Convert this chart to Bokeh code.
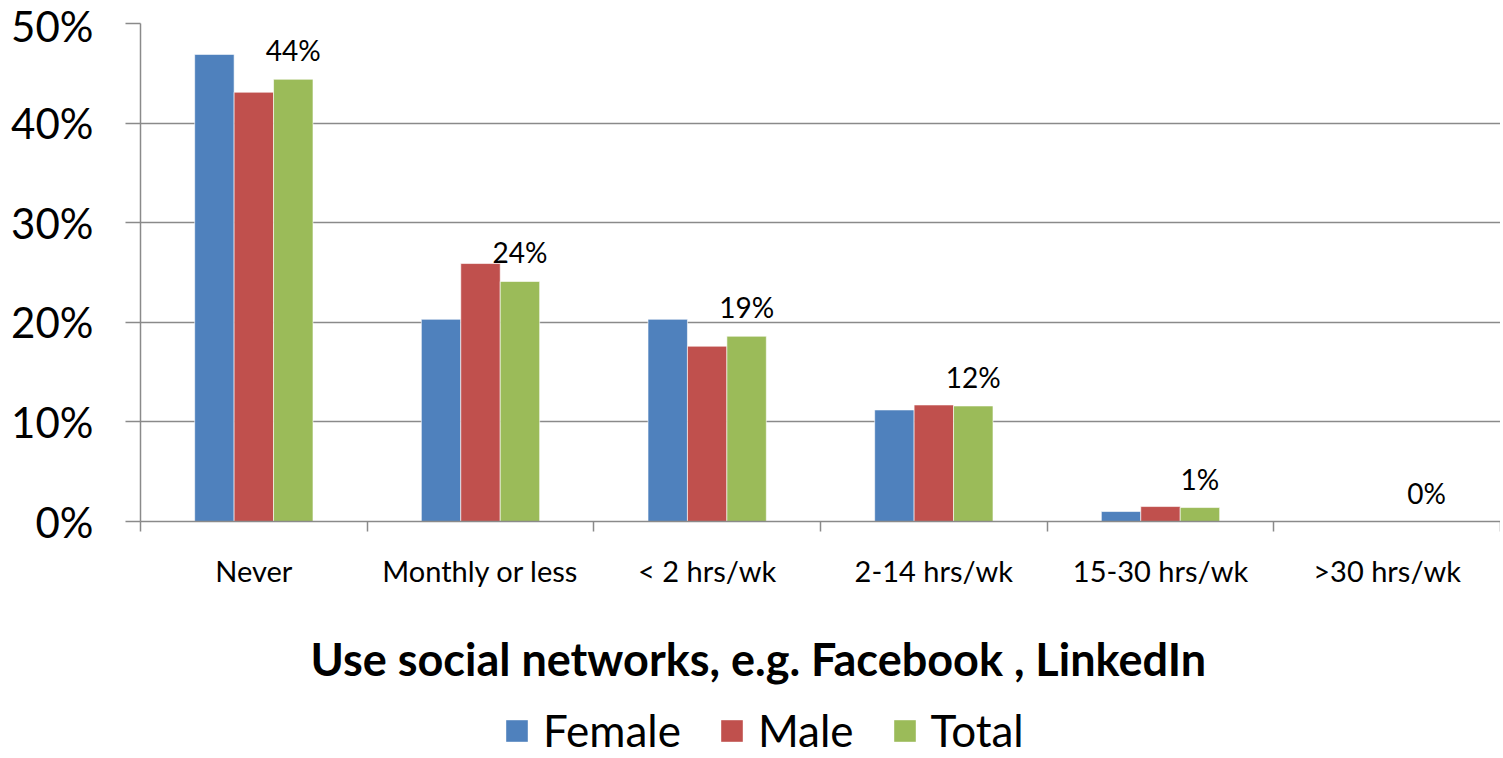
from bokeh.plotting import figure
from bokeh.layouts import column
from bokeh.models import (ColumnDataSource, Range1d, FixedTicker, NumeralTickFormatter,
                          Legend, LegendItem, Title)
from bokeh.transform import dodge
from bokeh.core.properties import value
from bokeh.embed import file_html
from bokeh.resources import INLINE

categories = ["Never", "Monthly or less", "< 2 hrs/wk", "2-14 hrs/wk", "15-30 hrs/wk", ">30 hrs/wk"]
female = [0.469, 0.203, 0.203, 0.112, 0.010, 0.0]
male = [0.431, 0.259, 0.176, 0.117, 0.015, 0.0]
total = [0.444, 0.241, 0.186, 0.116, 0.014, 0.0]
series_names = ["Female", "Male", "Total"]
colors = ["#4F81BD", "#C0504D", "#9BBB59"]
y_ticks = [0.0, 0.1, 0.2, 0.3, 0.4, 0.5]
title_text = "Use social networks, e.g. Facebook , LinkedIn"

FONT = "Lato"
GRID = "#8a8a8a"
W = 1500
H_MAIN = 590
H_BOT = 166
LEFT = 140

xs = [i + 0.5 for i in range(len(categories))]
src = ColumnDataSource(dict(
    x=xs, female=female, male=male, total=total,
    total_label=[f"{round(v * 100)}%" for v in total],
))

p = figure(width=W, height=H_MAIN, output_backend="svg", toolbar_location=None,
           x_range=Range1d(0, len(categories)), y_range=Range1d(0, 0.5),
           min_border_left=LEFT, min_border_right=0, min_border_top=23,
           min_border_bottom=H_MAIN - 522)
p.outline_line_color = None
p.background_fill_color = "white"
p.border_fill_color = "white"

bw = 0.174
offsets = [-bw, 0.0, bw]
fields = ["female", "male", "total"]
for f, off, c in zip(fields, offsets, colors):
    p.vbar(x=dodge("x", off, range=p.x_range), top=f, width=bw, source=src,
           fill_color=c, line_color="white", line_alpha=0.6, line_width=1)

p.text(x=dodge("x", bw, range=p.x_range), y="total", text="total_label", source=src,
       text_align="center", text_baseline="alphabetic", y_offset=-29,
       text_font=value(FONT), text_font_size="28px", text_color="black")

# y axis
p.yaxis.ticker = FixedTicker(ticks=y_ticks)
p.yaxis.formatter = NumeralTickFormatter(format="0%")
p.yaxis.major_label_text_font = FONT
p.yaxis.major_label_text_font_size = "42px"
p.yaxis.major_label_text_color = "black"
p.yaxis.major_tick_out = 15
p.yaxis.major_tick_in = 0
p.yaxis.minor_tick_line_color = None
p.yaxis.major_tick_line_color = GRID
p.yaxis.major_tick_line_width = 1.5
p.yaxis.axis_line_color = GRID
p.yaxis.axis_line_width = 1.5
p.yaxis.major_label_standoff = 32

# x axis
p.xaxis.ticker = FixedTicker(ticks=xs, minor_ticks=list(range(len(categories) + 1)))
p.xaxis.major_label_overrides = {x: c for x, c in zip(xs, categories)}
p.xaxis.major_label_text_font = FONT
p.xaxis.major_label_text_font_size = "29px"
p.xaxis.major_label_text_color = "black"
p.xaxis.major_tick_out = 0
p.xaxis.major_tick_in = 0
p.xaxis.major_tick_line_color = None
p.xaxis.minor_tick_out = 10
p.xaxis.minor_tick_in = 0
p.xaxis.minor_tick_line_color = GRID
p.xaxis.minor_tick_line_width = 1.5
p.xaxis.axis_line_color = GRID
p.xaxis.axis_line_width = 1.5
p.xaxis.major_label_standoff = 21

p.xgrid.grid_line_color = None
p.ygrid.ticker = FixedTicker(ticks=y_ticks)
p.ygrid.grid_line_color = GRID
p.ygrid.grid_line_width = 1.5

# bottom strip: axis title + legend
pl = figure(width=W, height=H_BOT, output_backend="svg", toolbar_location=None,
            x_range=Range1d(0, len(categories)), y_range=Range1d(10, 11),
            x_axis_type=None, y_axis_type=None,
            min_border_left=LEFT, min_border_right=0, min_border_top=100, min_border_bottom=0)
pl.outline_line_color = None
pl.xgrid.grid_line_color = None
pl.ygrid.grid_line_color = None
# same bars, outside this strip's visible range: only used for legend swatches
swatches = [pl.vbar(x="x", top=f, width=bw, source=src, fill_color=c, line_color=None)
            for f, c in zip(fields, colors)]

t = Title(text=title_text, align="left", offset=170, text_font=FONT,
          text_font_size="45px", text_font_style="bold", text_color="black", standoff=10)
pl.add_layout(t, "above")

legend = Legend(items=[LegendItem(label=n, renderers=[r]) for n, r in zip(series_names, swatches)],
                orientation="horizontal", location=(363, 0),
                label_text_font=FONT, label_text_font_size="44px", label_text_color="black",
                glyph_width=27, glyph_height=27, label_standoff=13, spacing=37,
                padding=0, margin=0, border_line_color=None, background_fill_alpha=0)
pl.add_layout(legend, "center")

open("out.html", "w").write(file_html(column(p, pl, spacing=0), INLINE))
